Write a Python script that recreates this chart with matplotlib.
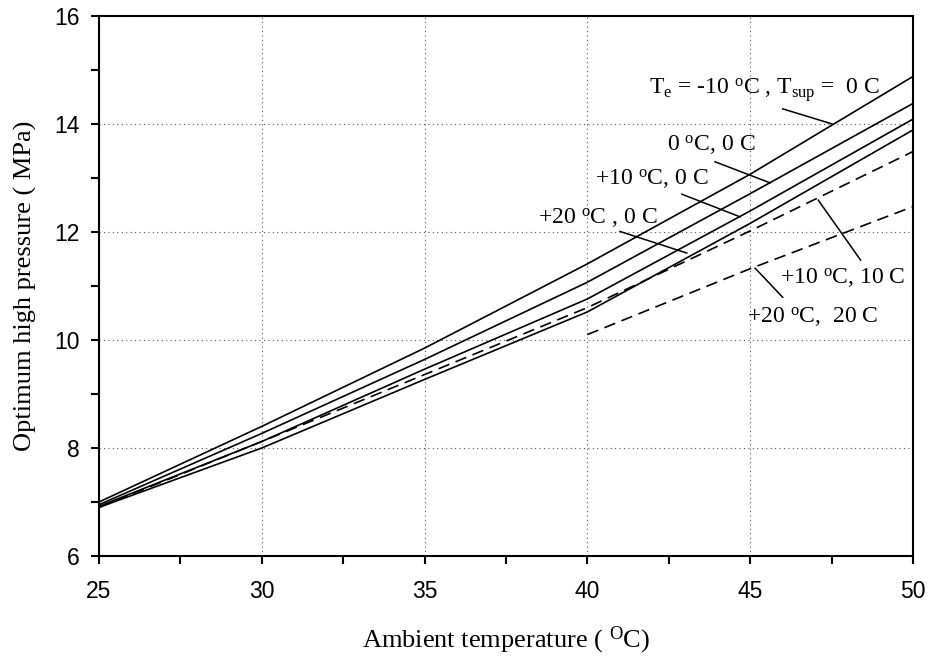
import matplotlib
matplotlib.use("Agg")

import numpy as np
import matplotlib.pyplot as plt
from matplotlib.ticker import MultipleLocator

# -----------------------------
# DANE
# -----------------------------

t_amb = [25, 30, 35, 40, 45, 50]

p_te_m10 = [7.00, 8.40, 9.85, 11.41, 13.07, 14.88]
p_te_0 = [6.95, 8.27, 9.64, 11.07, 12.71, 14.38]
p_te_10 = [6.92, 8.12, 9.46, 10.76, 12.39, 14.09]
p_te_20 = [6.90, 8.00, 9.27, 10.52, 12.16, 13.89]

p_te_10_sup10 = [6.90, 8.12, 9.36, 10.60, 12.02, 13.49]

t_amb_short = [40, 45, 50]
p_te_20_sup20 = [10.10, 11.32, 12.47]

# etykiety: tekst, lewy brzeg/linia bazowa, odcinek wskaznika
labels = [
    (r"T$_\mathrm{e}$ = -10 $^\mathrm{o}$C , T$_\mathrm{sup}$ =  0 C", (41.89, 14.55), (46.0, 14.28), (47.52, 14.0)),
    (r"0 $^\mathrm{o}$C, 0 C", (42.44, 13.51), (43.92, 13.30), (45.61, 12.91)),
    (r"+10 $^\mathrm{o}$C, 0 C", (40.23, 12.87), (42.9, 12.70), (44.69, 12.28)),
    (r"+20 $^\mathrm{o}$C , 0 C", (38.49, 12.16), (41.0, 12.01), (43.05, 11.61)),
    (r"+10 $^\mathrm{o}$C, 10 C", (45.92, 11.04), (47.09, 12.59), (48.39, 11.48)),
    (r"+20 $^\mathrm{o}$C,  20 C", (44.89, 10.32), (45.15, 11.33), (46.0, 10.79)),
]

plt.rcParams["mathtext.fontset"] = "custom"
plt.rcParams["mathtext.rm"] = "Liberation Serif"
plt.rcParams["mathtext.it"] = "Liberation Serif:italic"

SERIF = "Liberation Serif"
SANS = "Liberation Sans"


def main():

    fig = plt.figure(figsize=(9.3, 6.61), dpi=100, facecolor="white")
    ax = fig.add_axes([0.1065, 0.1589, 0.8752, 0.8169])

    lw = 1.2
    for p in [p_te_m10, p_te_0, p_te_10, p_te_20]:
        ax.plot(t_amb, p, color="black", linewidth=lw)

    ax.plot(t_amb, p_te_10_sup10, color="black", linewidth=lw,
            dashes=(7, 4))
    ax.plot(t_amb_short, p_te_20_sup20, color="black", linewidth=lw,
            dashes=(7, 4))

    for text, pos, a, b in labels:
        ax.text(pos[0], pos[1], text, fontsize=17, family=SERIF,
                ha="left", va="baseline")
        ax.plot([a[0], b[0]], [a[1], b[1]], color="black", linewidth=1.1)

    ax.set_xlim(25, 50)
    ax.set_ylim(6, 16)
    ax.xaxis.set_major_locator(MultipleLocator(5))
    ax.xaxis.set_minor_locator(MultipleLocator(2.5))
    ax.yaxis.set_major_locator(MultipleLocator(2))
    ax.yaxis.set_minor_locator(MultipleLocator(1))

    ax.grid(True, which="major", color="#555555", linestyle=(0, (1, 3)),
            linewidth=0.8)

    for s in ax.spines.values():
        s.set_linewidth(1.5)

    ax.tick_params(which="both", direction="out", length=6, width=1.5,
                   top=False, right=False)
    ax.tick_params(axis="x", which="major", pad=11, labelsize=16.5)
    ax.tick_params(axis="y", which="major", pad=8, labelsize=16.5)
    for lab in ax.get_xticklabels() + ax.get_yticklabels():
        lab.set_family(SANS)

    ax.set_xlabel(r"Ambient temperature ( $^\mathrm{O}$C)", family=SERIF,
                  fontsize=19, labelpad=16)
    ax.set_ylabel("Optimum high pressure ( MPa)", family=SERIF,
                  fontsize=19, labelpad=12)

    fig.savefig("out.png", dpi=100, facecolor="white")
    plt.close(fig)


if __name__ == "__main__":
    main()
